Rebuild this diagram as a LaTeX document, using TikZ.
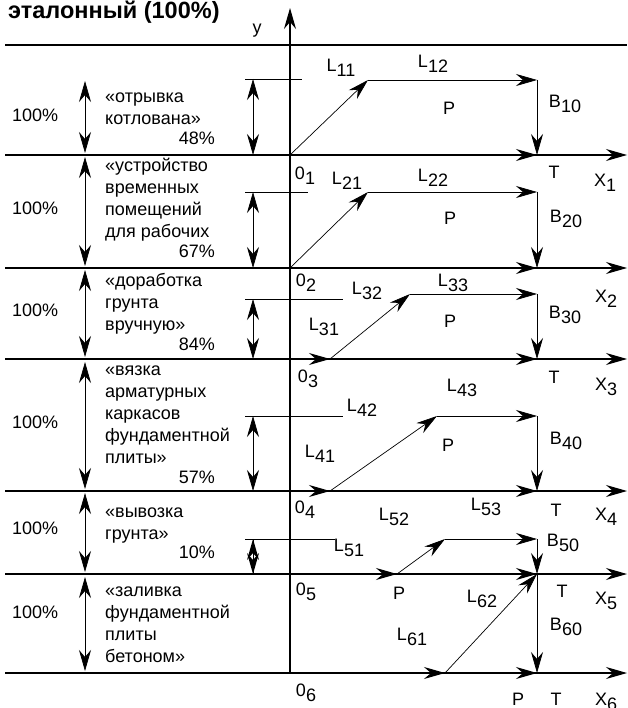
\documentclass[tikz,border=0pt]{standalone}
\usepackage{fontspec}
\setmainfont{Liberation Sans}
\usetikzlibrary{arrows.meta}

\newcommand{\sbs}[2]{#1\raisebox{-5pt}{#2}}

\tikzset{
  tip/.style={-{Stealth[length=21pt,width=12pt,inset=7pt]}},
  dtip/.style={{Stealth[length=21pt,width=12pt,inset=7pt]}-{Stealth[length=21pt,width=12pt,inset=7pt]}},
  axisline/.style={line width=1.1pt},
  guide/.style={line width=0.7pt},
  lab/.style={font=\fontsize{18}{22}\selectfont, inner sep=0pt},
  work/.style={lab, align=left, anchor=base west},
  share/.style={lab, anchor=base east}
}

\begin{document}
\begin{tikzpicture}[x=1pt,y=-1pt]
\useasboundingbox (0,0) rectangle (627,708);

\node[anchor=base west, inner sep=0pt, font=\fontsize{23.5}{28}\selectfont\bfseries] (title) at (8,18.5) {эталонный (100\%)};

% levels of the rows
\foreach \n/\y in {0/45,1/155,2/268,3/359,4/491,5/574,6/673} {
  \coordinate (w\n) at (5,\y);
  \coordinate (o\n) at (290,\y);
  \coordinate (t\n) at (537,\y);
  \coordinate (e\n) at (627,\y);
}
\coordinate (ytop) at (290,8);

% break points of the polylines
\coordinate (k1) at (368,80);  \coordinate (b1) at (537,80);
\coordinate (k2) at (368,192); \coordinate (b2) at (537,192);
\coordinate (s3) at (330,359); \coordinate (k3) at (410,294); \coordinate (b3) at (537,294);
\coordinate (s4) at (330,491); \coordinate (k4) at (437,416); \coordinate (b4) at (537,416);
\coordinate (s5) at (397,574); \coordinate (k5) at (445,539); \coordinate (b5) at (537,539);
\coordinate (s6) at (445,673);

% axes
\draw[axisline] (w0) -- (e0);
\foreach \n in {1,...,6}
  \draw[axisline, tip] (w\n) -- (e\n);
\draw[axisline, tip] (o6) -- (ytop);
\node[lab] (ylab) at (257,31) {y};

\foreach \n in {1,2}
  \draw[axisline, tip] (o\n) -- (t\n);
\foreach \n in {3,...,6} {
  \draw[axisline, tip] (o\n) -- (s\n);
  \draw[axisline, tip] (s\n) -- (t\n);
}

% paths of the works
\draw[guide, tip] (o1) -- (k1);
\draw[guide, tip] (k1) -- (b1);
\draw[guide, tip] (b1) -- (t1);
\draw[guide, tip] (o2) -- (k2);
\draw[guide, tip] (k2) -- (b2);
\draw[guide, tip] (b2) -- (t2);
\foreach \n in {3,4,5} {
  \draw[guide, tip] (s\n) -- (k\n);
  \draw[guide, tip] (k\n) -- (b\n);
  \draw[guide, tip] (b\n) -- (t\n);
}
\draw[guide, tip] (s6) -- (t5);
\draw[guide, tip] (t5) -- (t6);

% level marks and their heights
\foreach \y/\xe in {79/302, 192/308, 299/343, 416/343, 539/335}
  \draw[guide] (245,\y) -- (\xe,\y);
\foreach \y/\yb in {79/155, 192/268, 299/359, 416/491}
  \draw[guide, dtip] (253,\y) -- (253,\yb);
% too short for a double arrow: two heads that overlap
\draw[guide] (253,539) -- (253,574);
\fill (253,539) -- (259,560) -- (253,553) -- (247,560) -- cycle;
\fill (253,574) -- (259,553) -- (253,560) -- (247,553) -- cycle;
\foreach \ya/\yb in {81/153, 157/266, 270/357, 362/489, 493/572, 577/671}
  \draw[guide, dtip] (85,\ya) -- (85,\yb);

% left column (anchored on the last line)
\foreach \n/\y in {1/115,2/208,3/310,4/422,5/528,6/612}
  \node[lab, anchor=west] (full\n) at (12,\y) {100\%};

\node[work] (w1text) at (105,125) {«отрывка\\котлована»};
\node[share] (w1pc) at (215,145) {48\%};
\node[work] (w2text) at (105,238) {«устройство\\временных\\помещений\\для рабочих};
\node[share] (w2pc) at (215,258) {67\%};
\node[work] (w3text) at (105,330) {«доработка\\грунта\\вручную»};
\node[share] (w3pc) at (215,350) {84\%};
\node[work] (w4text) at (105,463) {«вязка\\арматурных\\каркасов\\фундаментной\\плиты»};
\node[share] (w4pc) at (215,483) {57\%};
\node[work] (w5text) at (105,539) {«вывозка\\грунта»};
\node[share] (w5pc) at (215,558) {10\%};
\node[work] (w6text) at (105,662) {«заливка\\фундаментной\\плиты\\бетоном»};

% labels on the right
\node[lab] (l11) at (341,68) {\sbs{L}{11}};
\node[lab] (l12) at (433,64) {\sbs{L}{12}};
\node[lab] (p1) at (449,108) {P};
\node[lab] (b10) at (565,104) {\sbs{B}{10}};
\node[lab] (o1lab) at (305,176) {\sbs{0}{1}};
\node[lab] (tt1) at (554,172) {T};
\node[lab] (x1) at (605,183) {\sbs{X}{1}};

\node[lab] (l21) at (347,181) {\sbs{L}{21}};
\node[lab] (l22) at (433,178) {\sbs{L}{22}};
\node[lab] (p2) at (450,218) {P};
\node[lab] (b20) at (566,219) {\sbs{B}{20}};
\node[lab] (o2lab) at (306,283) {\sbs{0}{2}};
\node[lab] (x2) at (606,299) {\sbs{X}{2}};

\node[lab] (l31) at (324,327) {\sbs{L}{31}};
\node[lab] (l32) at (367,291) {\sbs{L}{32}};
\node[lab] (l33) at (453,283) {\sbs{L}{33}};
\node[lab] (p3) at (450,321) {P};
\node[lab] (b30) at (565,315) {\sbs{B}{30}};
\node[lab] (o3lab) at (308,379) {\sbs{0}{3}};
\node[lab] (tt3) at (554,377) {T};
\node[lab] (x3) at (606,387) {\sbs{X}{3}};

\node[lab] (l41) at (320,454) {\sbs{L}{41}};
\node[lab] (l42) at (362,408) {\sbs{L}{42}};
\node[lab] (l43) at (462,388) {\sbs{L}{43}};
\node[lab] (p4) at (448,445) {P};
\node[lab] (b40) at (566,441) {\sbs{B}{40}};
\node[lab] (o4lab) at (305,510) {\sbs{0}{4}};
\node[lab] (tt4) at (556,510) {T};
\node[lab] (x4) at (606,517) {\sbs{X}{4}};

\node[lab] (l51) at (349,548) {\sbs{L}{51}};
\node[lab] (l52) at (394,517) {\sbs{L}{52}};
\node[lab] (l53) at (486,507) {\sbs{L}{53}};
\node[lab] (b50) at (563,543) {\sbs{B}{50}};
\node[lab] (p5) at (399,593) {P};
\node[lab] (o5lab) at (306,592) {\sbs{0}{5}};
\node[lab] (tt5) at (562,591) {T};
\node[lab] (x5) at (606,601) {\sbs{X}{5}};

\node[lab] (l61) at (412,637) {\sbs{L}{61}};
\node[lab] (l62) at (482,599) {\sbs{L}{62}};
\node[lab] (b60) at (566,627) {\sbs{B}{60}};
\node[lab] (o6lab) at (306,693) {\sbs{0}{6}};
\node[lab] (p6) at (518,699) {P};
\node[lab] (tt6) at (556,699) {T};
\node[lab] (x6) at (606,702) {\sbs{X}{6}};
\end{tikzpicture}
\end{document}
